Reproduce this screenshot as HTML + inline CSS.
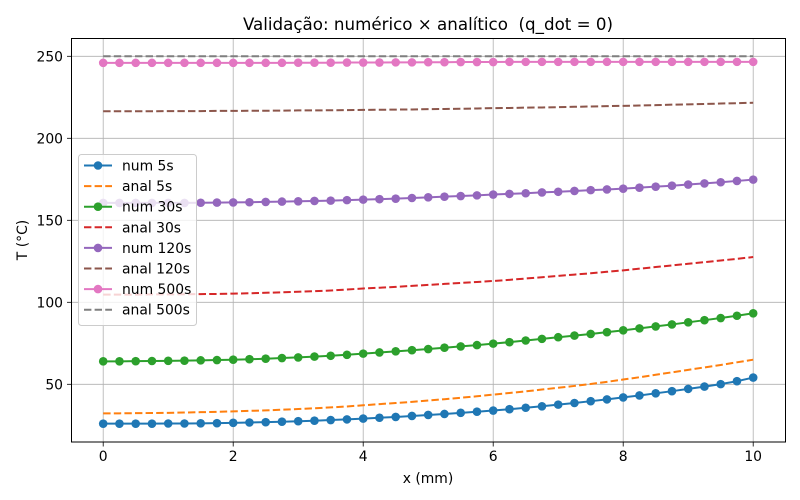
<!DOCTYPE html>
<html><head><meta charset="utf-8">
<style>
html,body{margin:0;padding:0;background:#fff;}
svg{display:block;font-family:"DejaVu Sans","Liberation Sans",sans-serif;}
</style></head>
<body>
<svg id="chart" width="800" height="500" viewBox="0 0 800 500" xmlns="http://www.w3.org/2000/svg">
<rect width="800" height="500" fill="#fff"/>
<text x="428" y="30" text-anchor="middle" font-size="16.7" fill="#000" style="white-space:pre" xml:space="preserve">Validação: numérico × analítico  (q_dot = 0)</text>
<g id="grid"></g>
<g id="series"></g>
<rect x="71.5" y="38.5" width="714" height="403.5" fill="none" stroke="#000" stroke-width="1"/>
<g id="ticks"></g>
<text x="428" y="483" text-anchor="middle" font-size="13.9">x (mm)</text>
<text transform="translate(27,240) rotate(-90)" text-anchor="middle" font-size="13.9">T (°C)</text>
<g id="legend"></g>
</svg>
<script>
const xVals = [0,0.25,0.5,0.75,1,1.25,1.5,1.75,2,2.25,2.5,2.75,3,3.25,3.5,3.75,4,4.25,4.5,4.75,5,5.25,5.5,5.75,6,6.25,6.5,6.75,7,7.25,7.5,7.75,8,8.25,8.5,8.75,9,9.25,9.5,9.75,10];
const num5 = [26.0,26.0,26.0,26.0,26.1,26.1,26.2,26.3,26.5,26.7,26.9,27.2,27.5,27.8,28.2,28.6,29.1,29.6,30.1,30.7,31.3,31.9,32.6,33.3,34.0,34.8,35.7,36.6,37.6,38.6,39.7,40.8,42.0,43.2,44.5,45.8,47.2,48.6,50.1,51.9,54.1];
const anal5 = [32.3,32.3,32.4,32.5,32.6,32.8,33.0,33.2,33.5,33.8,34.1,34.5,34.9,35.4,35.9,36.5,37.2,37.9,38.6,39.3,40.1,40.9,41.8,42.7,43.7,44.7,45.7,46.8,47.9,49.0,50.2,51.5,52.9,54.3,55.8,57.3,58.8,60.3,61.8,63.4,65.0];
const num30 = [64.0,64.0,64.1,64.2,64.3,64.4,64.6,64.8,65.0,65.3,65.6,66.0,66.4,66.9,67.4,68.0,68.7,69.4,70.1,70.8,71.5,72.3,73.1,73.9,74.8,75.7,76.7,77.7,78.7,79.7,80.7,81.8,82.9,84.1,85.3,86.5,87.8,89.1,90.4,91.8,93.3];
const anal30 = [104.7,104.7,104.7,104.8,104.8,104.9,105.0,105.1,105.3,105.5,105.8,106.1,106.4,106.8,107.2,107.8,108.4,108.9,109.4,110.0,110.6,111.2,111.8,112.4,113.0,113.7,114.5,115.3,116.1,116.9,117.7,118.6,119.5,120.5,121.5,122.5,123.5,124.5,125.5,126.5,127.6];
const num120 = [160.6,160.6,160.6,160.6,160.6,160.6,160.7,160.8,160.9,161.0,161.2,161.4,161.6,161.8,162.0,162.3,162.6,162.9,163.2,163.6,164.0,164.4,164.8,165.2,165.7,166.1,166.5,167.0,167.4,167.9,168.4,168.8,169.3,169.9,170.5,171.1,171.8,172.5,173.2,174.0,174.8];
const anal120 = [216.5,216.5,216.5,216.5,216.6,216.6,216.6,216.7,216.7,216.8,216.8,216.9,217.0,217.0,217.1,217.2,217.3,217.4,217.5,217.6,217.8,217.9,218.0,218.2,218.4,218.5,218.7,218.8,219.0,219.2,219.4,219.6,219.8,220.0,220.2,220.5,220.7,220.9,221.2,221.4,221.7];
const num500 = [246.0,246.0,246.0,246.0,246.0,246.0,246.0,246.0,246.0,246.0,246.0,246.0,246.1,246.1,246.1,246.2,246.2,246.2,246.3,246.3,246.4,246.4,246.5,246.5,246.5,246.6,246.6,246.6,246.6,246.6,246.6,246.6,246.6,246.6,246.6,246.6,246.6,246.6,246.6,246.6,246.6];
const anal500 = [250,250,250,250,250,250,250,250,250,250,250,250,250,250,250,250,250,250,250,250,250,250,250,250,250,250,250,250,250,250,250,250,250,250,250,250,250,250,250,250,250];
const xTicks = [0,2,4,6,8,10];
const yTicks = [50,100,150,200,250];
const seriesNames = ["num 5s","anal 5s","num 30s","anal 30s","num 120s","anal 120s","num 500s","anal 500s"];

const NS = "http://www.w3.org/2000/svg";
const X0 = 103.2, XS = 65.0;
const Y0 = 466.3, YS = 1.64;
function sx(v){ return X0 + v*XS; }
function sy(v){ return Y0 - v*YS; }
function mk(tag, attrs, parent){
  const e = document.createElementNS(NS, tag);
  for (const k in attrs) e.setAttribute(k, attrs[k]);
  parent.appendChild(e); return e;
}
const grid = document.getElementById('grid');
const ticks = document.getElementById('ticks');
xTicks.forEach(t=>{
  const g = mk('line',{x1:sx(t),x2:sx(t),y1:38.5,y2:442,stroke:'#b0b0b0','stroke-width':0.8},grid);
  
  
  const tk = mk('line',{x1:sx(t),x2:sx(t),y1:442,y2:446.5,stroke:'#000','stroke-width':0.8},ticks);
  
  
  const lb = mk('text',{x:sx(t),y:461,'text-anchor':'middle','font-size':13.9},ticks);
  lb.textContent = t;
  
  
});
yTicks.forEach(t=>{
  const g = mk('line',{x1:71.5,x2:785.5,y1:sy(t),y2:sy(t),stroke:'#b0b0b0','stroke-width':0.8},grid);
  
  
  const tk = mk('line',{x1:67,x2:71.5,y1:sy(t),y2:sy(t),stroke:'#000','stroke-width':0.8},ticks);
  
  
  const lb = mk('text',{x:63,y:sy(t)+5,'text-anchor':'end','font-size':13.9},ticks);
  lb.textContent = t;
  
  
});

const seriesData = [num5, anal5, num30, anal30, num120, anal120, num500, anal500];
const colors = ['#1f77b4','#ff7f0e','#2ca02c','#d62728','#9467bd','#8c564b','#e377c2','#7f7f7f'];
const sg = document.getElementById('series');
seriesData.forEach((arr, i)=>{
  const dashed = i % 2 === 1;
  const pts = arr.map((v,j)=>sx(xVals[j]).toFixed(2)+','+sy(v).toFixed(2)).join(' ');
  const g = mk('g',{},sg);
  
  
  const pl = mk('polyline',{points:pts,fill:'none',stroke:colors[i],'stroke-width':2,'stroke-dasharray':dashed?'7.4,3.2':'none'},g);
  
  
  if(!dashed){
    arr.forEach((v,j)=>{
      const c = mk('circle',{cx:sx(xVals[j]),cy:sy(v),r:4.3,fill:colors[i]},g);
      
      
    });
  }
});

const lg = document.getElementById('legend');
const box = mk('rect',{x:78.5,y:154.5,width:118,height:171,rx:3,fill:'#fff','fill-opacity':0.8,stroke:'#cccccc','stroke-width':1},lg);


seriesNames.forEach((n,i)=>{
  const y = 165.5 + i*20.6;
  const dashed = i % 2 === 1;
  const e = mk('g',{},lg);
  
  
  mk('line',{x1:84,x2:112,y1:y,y2:y,stroke:colors[i],'stroke-width':2,'stroke-dasharray':dashed?'7.4,3.2':'none'},e);
  if(!dashed) mk('circle',{cx:98,cy:y,r:4.3,fill:colors[i]},e);
  const t = mk('text',{x:122,y:y+5,'font-size':13.9},e);
  t.textContent = n;
});
</script>
</body></html>
